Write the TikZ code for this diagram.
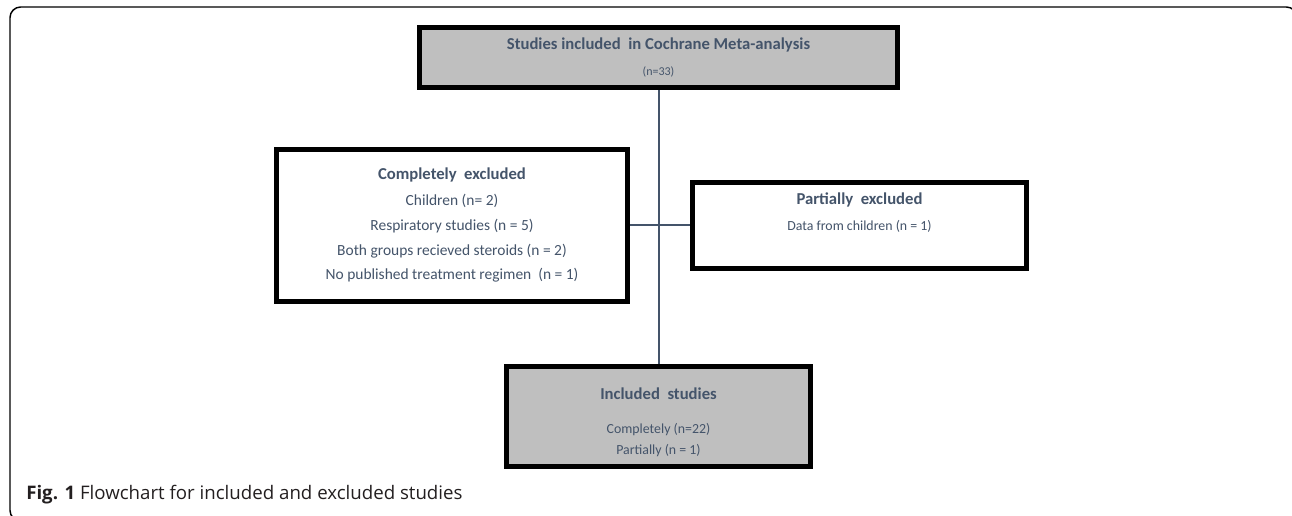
\documentclass[tikz,border=0pt]{standalone}
\usepackage{fontspec}
\setmainfont{Carlito}
\newfontfamily\capfont{Open Sans}
\definecolor{slate}{HTML}{44546A}
\definecolor{boxgrey}{HTML}{BFBFBF}
\definecolor{capblack}{HTML}{231F20}
\begin{document}
\begin{tikzpicture}[x=0.75pt,y=-0.75pt,
    stagebox/.style={rectangle,draw=black,line width=3.75pt,align=center,text=slate,inner sep=0pt},
    link/.style={draw=slate,line width=1.5pt}]
\useasboundingbox (0,0) rectangle (1292,515);
%\draw[help lines] (0,0) grid[step=50] (1292,515);
\draw[line width=1.1pt,rounded corners=8pt] (10,7) rectangle (1297,521);

\node[stagebox,fill=boxgrey,minimum width=358.5pt,minimum height=45pt,font=\fontsize{9}{20}\selectfont] (S1) at (658.5,57.5)
    {{\bfseries\fontsize{12.5}{14}\selectfont Studies included~ in Cochrane Meta-analysis}\\(n=33)};
\node[stagebox,fill=white,minimum width=263.25pt,minimum height=114pt,font=\fontsize{11.6}{18.5}\selectfont] (E1) at (452,225)
    {{\bfseries\fontsize{12.5}{14}\selectfont Completely~ excluded}\\[1.5pt]
     Children (n= 2)\\Respiratory studies (n = 5)\\Both groups recieved steroids (n = 2)\\No published treatment regimen~ (n = 1)};
\node[stagebox,fill=white,minimum width=250.5pt,minimum height=64.5pt,font=\fontsize{10.4}{19.5}\selectfont] (E2) at (859.5,225)
    {{\bfseries\fontsize{12.5}{14}\selectfont Partially~ excluded}\\Data from children (n = 1)\\\mbox{}};
\node[stagebox,fill=boxgrey,minimum width=228pt,minimum height=75pt,font=\fontsize{10.4}{15.75}\selectfont] (S2) at (658.5,416.5)
    {\rule{0pt}{18pt}{\bfseries\fontsize{12.5}{14}\selectfont Included~ studies}\\[9.75pt]
     Completely (n=22)\\Partially (n = 1)};

\path
    (S1) edge[link] (S2)
    (E1) edge[link, line width=1.2pt] (E2);

\node[anchor=base west,inner sep=0pt,text=capblack,font=\capfont\fontsize{14}{16}\selectfont] (cap) at (26,499)
    {\textbf{Fig. 1} Flowchart for included and excluded studies};
\end{tikzpicture}
\end{document}
